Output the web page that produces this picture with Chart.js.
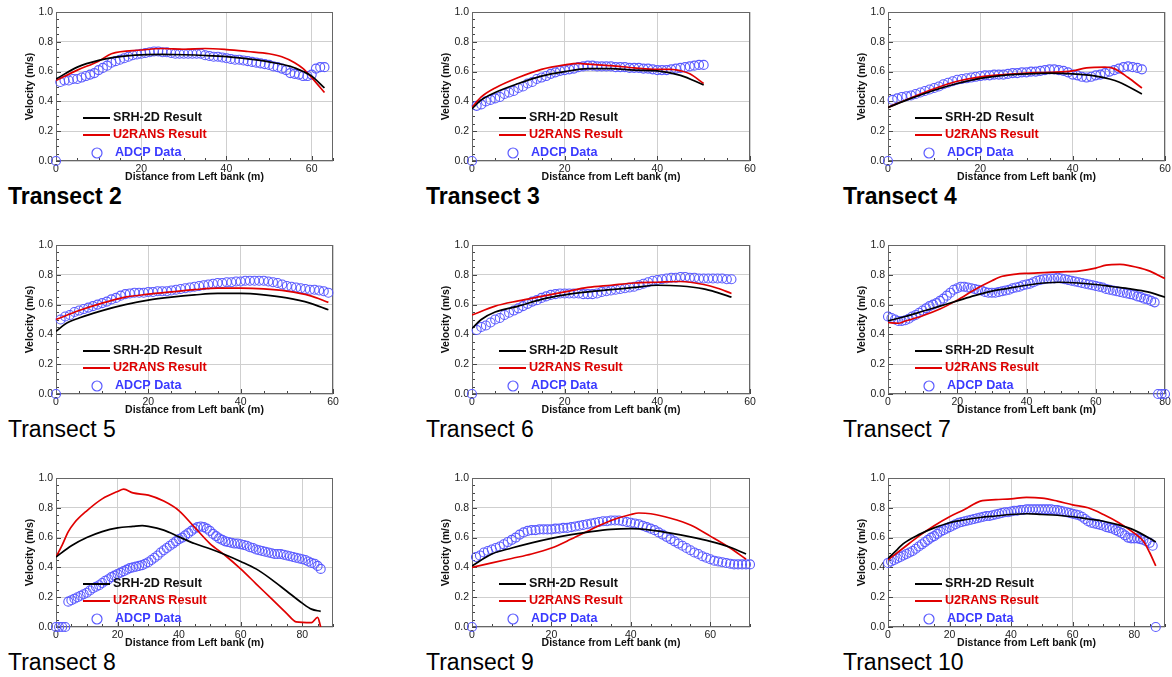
<!DOCTYPE html>
<html>
<head>
<meta charset="utf-8">
<script src="https://cdn.jsdelivr.net/npm/chart.js@4.4.0/dist/chart.umd.min.js"></script>
<style>
  body { margin: 0; background: #fff; width: 1172px; height: 677px; position: relative; overflow: hidden; font-family: "Liberation Sans", Arial, sans-serif; }
  canvas { position: absolute; }
  .ttl { position: absolute; font-size: 23px; line-height: 23px; color: #000; white-space: nowrap; }
</style>
</head>
<body>
<script>
// ---- data: model curves as [distance, velocity], ADCP velocity at 0,1,2,... m ----
const srhT2 = [[0,0.55],[5,0.63],[10,0.675],[15,0.70],[20,0.712],[25,0.715],[30,0.713],[35,0.708],[40,0.70],[45,0.685],[50,0.665],[55,0.635],[58,0.60],[60,0.57],[63,0.49]];
const u2T2 = [[0,0.54],[5,0.61],[10,0.67],[13,0.72],[20,0.745],[25,0.755],[30,0.75],[35,0.755],[40,0.748],[45,0.735],[50,0.72],[53,0.70],[56,0.66],[58,0.62],[60,0.56],[63,0.46]];
const adcpT2 = [0,0.53,0.54,0.54,0.55,0.55,0.56,0.57,0.58,0.59,0.61,0.625,0.64,0.66,0.67,0.68,0.69,0.70,0.71,0.715,0.72,0.725,0.73,0.735,0.735,0.73,0.73,0.725,0.72,0.72,0.72,0.72,0.72,0.72,0.72,0.71,0.705,0.70,0.70,0.695,0.69,0.685,0.68,0.68,0.675,0.67,0.665,0.66,0.655,0.65,0.645,0.635,0.63,0.62,0.61,0.59,0.585,0.58,0.57,0.57,0.58,0.62,0.63,0.63];

const srhT3 = [[0,0.35],[2,0.41],[5,0.46],[10,0.52],[15,0.57],[20,0.60],[25,0.62],[30,0.62],[35,0.61],[40,0.605],[45,0.575],[50,0.51]];
const u2T3 = [[0,0.36],[2,0.43],[5,0.49],[10,0.56],[15,0.615],[20,0.645],[23,0.655],[25,0.65],[30,0.64],[35,0.625],[40,0.615],[43,0.615],[45,0.605],[47,0.585],[50,0.52]];
const adcpT3 = [0,0.37,0.38,0.40,0.41,0.42,0.43,0.45,0.46,0.47,0.49,0.50,0.52,0.53,0.55,0.56,0.57,0.585,0.595,0.605,0.61,0.615,0.62,0.63,0.635,0.64,0.64,0.635,0.635,0.635,0.635,0.63,0.63,0.63,0.625,0.625,0.625,0.62,0.62,0.615,0.61,0.61,0.61,0.615,0.62,0.625,0.63,0.635,0.64,0.645,0.645];

const srhT4 = [[0,0.36],[5,0.42],[10,0.475],[15,0.52],[20,0.555],[25,0.575],[30,0.585],[35,0.59],[40,0.585],[45,0.57],[48,0.55],[50,0.53],[55,0.45]];
const u2T4 = [[0,0.36],[5,0.425],[10,0.485],[15,0.535],[20,0.565],[25,0.58],[30,0.59],[35,0.595],[40,0.605],[43,0.625],[47,0.63],[49,0.62],[52,0.56],[55,0.49]];
const adcpT4 = [0,0.41,0.42,0.43,0.435,0.44,0.45,0.46,0.47,0.48,0.49,0.50,0.515,0.525,0.535,0.545,0.55,0.555,0.56,0.565,0.57,0.575,0.575,0.58,0.58,0.58,0.585,0.59,0.59,0.595,0.595,0.60,0.60,0.605,0.61,0.615,0.615,0.61,0.605,0.595,0.58,0.575,0.565,0.56,0.565,0.575,0.58,0.59,0.60,0.61,0.62,0.63,0.635,0.63,0.625,0.615];

const srhT5 = [[0,0.42],[2,0.47],[5,0.51],[10,0.56],[15,0.60],[20,0.63],[25,0.65],[30,0.665],[35,0.675],[40,0.675],[45,0.665],[50,0.645],[55,0.61],[59,0.565]];
const u2T5 = [[0,0.50],[5,0.56],[10,0.61],[15,0.65],[20,0.67],[25,0.685],[30,0.70],[35,0.71],[40,0.71],[45,0.705],[50,0.69],[55,0.66],[59,0.615]];
const adcpT5 = [0,0.50,0.52,0.53,0.55,0.56,0.57,0.58,0.59,0.60,0.61,0.62,0.635,0.645,0.66,0.67,0.675,0.68,0.68,0.68,0.685,0.685,0.69,0.69,0.69,0.695,0.70,0.705,0.71,0.715,0.72,0.725,0.73,0.735,0.74,0.745,0.745,0.75,0.75,0.755,0.755,0.76,0.76,0.76,0.76,0.76,0.755,0.75,0.745,0.735,0.725,0.72,0.715,0.71,0.705,0.70,0.70,0.695,0.69,0.68];

const srhT6 = [[0,0.44],[2,0.50],[5,0.55],[10,0.59],[15,0.635],[20,0.665],[25,0.685],[30,0.70],[35,0.715],[40,0.73],[45,0.725],[50,0.705],[53,0.68],[56,0.65]];
const u2T6 = [[0,0.53],[5,0.59],[10,0.625],[15,0.655],[20,0.685],[25,0.715],[30,0.73],[35,0.745],[40,0.75],[45,0.755],[50,0.735],[53,0.71],[56,0.675]];
const adcpT6 = [0,0.43,0.45,0.46,0.48,0.50,0.51,0.53,0.545,0.56,0.575,0.59,0.605,0.62,0.63,0.645,0.655,0.665,0.67,0.675,0.675,0.675,0.675,0.675,0.67,0.67,0.67,0.675,0.685,0.69,0.695,0.70,0.705,0.71,0.715,0.72,0.73,0.74,0.75,0.76,0.765,0.77,0.775,0.78,0.78,0.785,0.785,0.78,0.78,0.775,0.775,0.775,0.775,0.775,0.775,0.77,0.77];

const srhT7 = [[0,0.49],[5,0.52],[10,0.555],[15,0.59],[20,0.625],[25,0.66],[30,0.69],[35,0.71],[40,0.73],[45,0.745],[50,0.75],[55,0.745],[60,0.735],[65,0.72],[70,0.705],[75,0.685],[80,0.65]];
const u2T7 = [[0,0.48],[3,0.475],[5,0.49],[10,0.525],[15,0.57],[20,0.63],[25,0.70],[30,0.76],[33,0.79],[37,0.805],[40,0.81],[45,0.815],[50,0.82],[55,0.825],[60,0.845],[63,0.865],[67,0.87],[70,0.86],[75,0.83],[80,0.775]];
const adcpT7 = [0.52,0.51,0.50,0.49,0.49,0.495,0.505,0.52,0.53,0.545,0.56,0.575,0.59,0.60,0.61,0.625,0.64,0.66,0.68,0.70,0.71,0.72,0.72,0.715,0.71,0.705,0.70,0.695,0.685,0.68,0.68,0.68,0.685,0.69,0.695,0.70,0.71,0.715,0.72,0.73,0.735,0.74,0.75,0.76,0.765,0.77,0.775,0.775,0.775,0.78,0.775,0.77,0.765,0.76,0.755,0.75,0.745,0.74,0.735,0.73,0.725,0.72,0.715,0.705,0.70,0.695,0.69,0.685,0.68,0.675,0.67,0.665,0.655,0.65,0.64,0.635,0.625,0.615,0,0,0];

const srhT8 = [[0,0.47],[5,0.545],[10,0.60],[15,0.64],[20,0.665],[25,0.675],[28,0.68],[30,0.675],[35,0.65],[40,0.605],[45,0.56],[50,0.525],[55,0.485],[60,0.44],[65,0.39],[70,0.32],[75,0.24],[80,0.16],[83,0.12],[86,0.105]];
const u2T8 = [[0,0.47],[2,0.55],[4,0.64],[6,0.70],[10,0.78],[15,0.86],[20,0.91],[22,0.925],[25,0.90],[30,0.885],[35,0.845],[40,0.78],[45,0.67],[50,0.56],[55,0.48],[60,0.39],[65,0.29],[70,0.19],[75,0.09],[78,0.035],[83,0.03],[85,0.065],[86,0.0]];
const adcpT8 = [0,0,0,0,0.17,0.18,0.19,0.20,0.21,0.22,0.23,0.245,0.26,0.27,0.28,0.295,0.31,0.32,0.335,0.345,0.355,0.365,0.375,0.385,0.395,0.40,0.405,0.41,0.415,0.425,0.435,0.45,0.465,0.48,0.50,0.515,0.53,0.545,0.56,0.575,0.59,0.60,0.615,0.63,0.645,0.66,0.67,0.675,0.67,0.66,0.645,0.625,0.61,0.595,0.585,0.575,0.57,0.565,0.56,0.56,0.555,0.55,0.545,0.535,0.53,0.52,0.515,0.51,0.505,0.50,0.495,0.49,0.49,0.49,0.485,0.48,0.475,0.47,0.465,0.46,0.455,0.45,0.44,0.43,0.425,0.41,0.39];

const srhT9 = [[0,0.41],[5,0.49],[10,0.53],[15,0.565],[20,0.595],[25,0.62],[30,0.64],[35,0.655],[40,0.66],[45,0.65],[50,0.63],[55,0.605],[60,0.575],[65,0.535],[69,0.49]];
const u2T9 = [[0,0.40],[5,0.43],[10,0.46],[15,0.49],[20,0.53],[25,0.59],[30,0.655],[35,0.715],[40,0.755],[42,0.765],[45,0.76],[50,0.73],[55,0.685],[60,0.61],[65,0.53],[69,0.455]];
const adcpT9 = [0,0.47,0.48,0.50,0.51,0.52,0.53,0.54,0.555,0.57,0.585,0.60,0.62,0.635,0.645,0.65,0.65,0.655,0.655,0.655,0.655,0.66,0.66,0.665,0.665,0.67,0.675,0.68,0.685,0.69,0.695,0.70,0.705,0.71,0.71,0.715,0.715,0.715,0.71,0.705,0.70,0.695,0.69,0.68,0.67,0.66,0.65,0.635,0.62,0.605,0.59,0.575,0.56,0.545,0.53,0.515,0.50,0.49,0.475,0.465,0.455,0.445,0.44,0.435,0.43,0.425,0.42,0.42,0.42,0.42,0.42];

const srhT10 = [[0,0.46],[3,0.52],[5,0.56],[10,0.62],[15,0.665],[20,0.70],[25,0.72],[30,0.735],[35,0.745],[40,0.755],[45,0.76],[50,0.755],[55,0.75],[60,0.74],[65,0.725],[70,0.71],[75,0.685],[80,0.65],[85,0.595],[87,0.57]];
const u2T10 = [[0,0.45],[5,0.53],[10,0.61],[15,0.68],[20,0.74],[25,0.79],[30,0.845],[35,0.855],[40,0.86],[45,0.87],[50,0.865],[55,0.845],[60,0.82],[65,0.80],[70,0.755],[75,0.70],[80,0.63],[83,0.575],[85,0.50],[87,0.41]];
const adcpT10 = [0.43,0.44,0.45,0.46,0.47,0.48,0.49,0.50,0.51,0.525,0.54,0.555,0.57,0.585,0.60,0.61,0.625,0.64,0.65,0.66,0.67,0.68,0.69,0.70,0.705,0.71,0.715,0.72,0.725,0.73,0.735,0.74,0.745,0.745,0.75,0.755,0.76,0.765,0.77,0.77,0.775,0.78,0.78,0.785,0.785,0.79,0.79,0.79,0.79,0.79,0.79,0.79,0.79,0.79,0.785,0.785,0.78,0.775,0.77,0.765,0.76,0.755,0.75,0.74,0.725,0.71,0.70,0.695,0.69,0.685,0.68,0.67,0.665,0.66,0.65,0.64,0.63,0.615,0.60,0.595,0.595,0.595,0.59,0.585,0.575,0.565,0.545,0];

const seriesNames = ['SRH-2D Result', 'U2RANS Result', 'ADCP Data'];
const transectNames = ['Transect 2','Transect 3','Transect 4','Transect 5','Transect 6','Transect 7','Transect 8','Transect 9','Transect 10'];
const xMaxes = [65, 60, 60, 60, 60, 80, 90, 70, 90];
const yTicks = ['0.0','0.2','0.4','0.6','0.8','1.0'];

const srhAll = [srhT2, srhT3, srhT4, srhT5, srhT6, srhT7, srhT8, srhT9, srhT10];
const u2All = [u2T2, u2T3, u2T4, u2T5, u2T6, u2T7, u2T8, u2T9, u2T10];
const adcpAll = [adcpT2, adcpT3, adcpT4, adcpT5, adcpT6, adcpT7, adcpT8, adcpT9, adcpT10];

// ---- layout (plot area in page pixels) ----
const colLeft = [[56, 277], [472, 278], [888, 277]];
const rowTop = [12, 245, 478];
const plotH = 149;
const titleLeft = [8, 426, 843];
const FONT = '"Liberation Sans", Arial, sans-serif';
const BLUE = '#5a5aff';
const RED = '#e00000';

const frameTicks = {
	id: 'frameTicks',
	beforeDatasetsDraw(chart) {
		const { ctx, chartArea: a, scales: { x, y } } = chart;
		ctx.save();
		ctx.strokeStyle = '#444';
		ctx.lineWidth = 1;
		ctx.beginPath();
		for (let v = 0; v <= x.max; v += 5) {
			const px = Math.round(x.getPixelForValue(v)) + 0.5;
			const len = v % 20 === 0 ? 5 : 3;
			ctx.moveTo(px, a.bottom);
			ctx.lineTo(px, a.bottom - len);
		}
		for (let i = 0; i <= 20; i++) {
			const py = Math.round(y.getPixelForValue(i * 0.05)) + 0.5;
			const len = i % 4 === 0 ? 5 : 3;
			ctx.moveTo(a.left, py);
			ctx.lineTo(a.left + len, py);
		}
		ctx.stroke();
		ctx.strokeStyle = '#666';
		ctx.strokeRect(a.left + 0.5, a.top + 0.5, a.right - a.left - 1, a.bottom - a.top - 1);
		ctx.restore();
	}
};

const insideLegend = {
	id: 'insideLegend',
	afterDatasetsDraw(chart) {
		const { ctx, chartArea: a } = chart;
		const ds = chart.data.datasets;
		ctx.save();
		ctx.font = 'bold 12.6px ' + FONT;
		ctx.textBaseline = 'middle';
		const rows = [a.bottom - 43, a.bottom - 26, a.bottom - 8];
		ds.forEach((d, i) => {
			const yy = rows[i];
			if (i < 2) {
				ctx.strokeStyle = d.borderColor;
				ctx.lineWidth = 2;
				ctx.beginPath();
				ctx.moveTo(a.left + 27, yy);
				ctx.lineTo(a.left + 54, yy);
				ctx.stroke();
				ctx.fillStyle = i === 0 ? '#111' : '#dd0000';
				ctx.fillText(d.label, a.left + 57, yy);
			} else {
				ctx.strokeStyle = d.pointBorderColor;
				ctx.lineWidth = 1.2;
				ctx.beginPath();
				ctx.arc(a.left + 41, yy, 5, 0, Math.PI * 2);
				ctx.stroke();
				ctx.fillStyle = '#3a3aff';
				ctx.fillText(d.label, a.left + 59, yy);
			}
		});
		ctx.restore();
	}
};

transectNames.forEach((name, k) => {
	const row = Math.floor(k / 3), col = k % 3;
	const [pl, pw] = colLeft[col];
	const pt = rowTop[row];

	const cv = document.createElement('canvas');
	cv.width = pw + 42;
	cv.height = plotH + 30;
	cv.style.left = (pl - 34) + 'px';
	cv.style.top = (pt - 8) + 'px';
	document.body.appendChild(cv);

	const ttl = document.createElement('div');
	ttl.className = 'ttl';
	ttl.textContent = name;
	ttl.style.left = titleLeft[col] + 'px';
	ttl.style.top = (pt + plotH + 24) + 'px';
	ttl.style.fontWeight = row === 0 ? 'bold' : 'normal';
	document.body.appendChild(ttl);

	new Chart(cv, {
		type: 'line',
		data: {
			datasets: [{
				label: seriesNames[0],
				data: srhAll[k].map(p => ({ x: p[0], y: p[1] })),
				borderColor: '#000',
				borderWidth: 1.7,
				pointRadius: 0,
				cubicInterpolationMode: 'monotone'
			}, {
				label: seriesNames[1],
				data: u2All[k].map(p => ({ x: p[0], y: p[1] })),
				borderColor: RED,
				borderWidth: 1.7,
				pointRadius: 0,
				cubicInterpolationMode: 'monotone'
			}, {
				label: seriesNames[2],
				data: adcpAll[k].map((v, i) => ({ x: i, y: v })),
				showLine: false,
				pointRadius: 4.5,
				pointBorderWidth: 1.1,
				pointBorderColor: BLUE,
				pointBackgroundColor: 'rgba(0,0,0,0)',
				clip: false
			}]
		},
		options: {
			responsive: false,
			animation: false,
			events: [],
			layout: { padding: { left: 0, top: 8, right: 8, bottom: 0 } },
			plugins: { legend: { display: false }, tooltip: { enabled: false } },
			scales: {
				x: {
					type: 'linear',
					min: 0,
					max: xMaxes[k],
					grid: { color: '#cfcfcf', drawTicks: false },
					border: { display: false },
					ticks: { stepSize: 20, includeBounds: false, padding: 2, maxRotation: 0, color: '#222', font: { family: FONT, size: 10.5 } },
					title: { display: true, text: 'Distance from Left bank (m)', color: '#111', padding: 0, font: { family: FONT, size: 10.5, weight: 'bold' } },
					afterFit: s => { s.height = 22; s.paddingLeft = 0; s.paddingRight = 0; }
				},
				y: {
					min: 0,
					max: 1,
					grid: { color: '#cfcfcf', drawTicks: false },
					border: { display: false },
					ticks: { stepSize: 0.2, padding: 3, color: '#222', font: { family: FONT, size: 10.5 },
						callback: (v) => yTicks[Math.round(v * 5)] },
					title: { display: true, text: 'Velocity (m/s)', color: '#111', padding: { top: 2, bottom: 0 }, font: { family: FONT, size: 10.5, weight: 'bold' } },
					afterFit: s => { s.width = 34; s.paddingTop = 0; s.paddingBottom = 0; }
				}
			}
		},
		plugins: [frameTicks, insideLegend]
	});
});
</script>
</body>
</html>
